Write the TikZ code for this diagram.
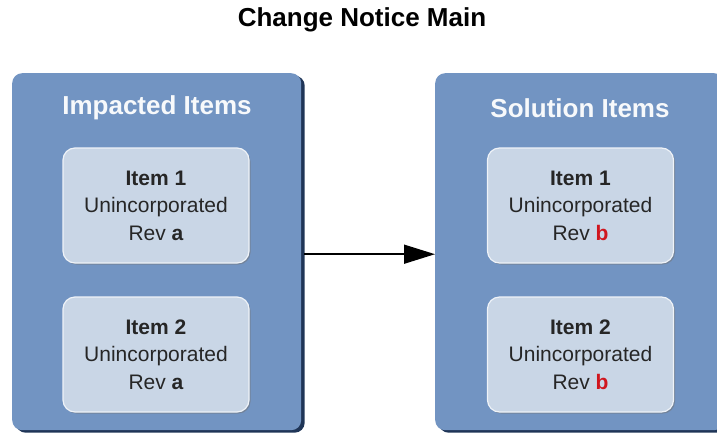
\documentclass[tikz,border=0pt]{standalone}
\usepackage{fontspec}
\setmainfont{Liberation Sans}
\usetikzlibrary{arrows.meta, shadows}
\definecolor{panelblue}{HTML}{7294C2}
\definecolor{paneldark}{HTML}{1F3557}
\definecolor{itemfill}{HTML}{C9D6E6}
\definecolor{revred}{HTML}{D0161E}

\begin{document}
\begin{tikzpicture}[x=1pt, y=-1pt,
	every node/.append style={font=\fontsize{21}{27.5}\selectfont},
	panel/.style={rectangle, rounded corners=10pt, fill=panelblue, anchor=north west,
		minimum width=289pt, minimum height=357pt, inner sep=0pt,
		general shadow={fill=paneldark, shadow xshift=3.5pt, shadow yshift=-2.5pt}},
	heading/.style={font=\fontsize{26}{30}\selectfont\bfseries, text=white!94!panelblue},
	itembox/.style={rectangle, rounded corners=12pt, fill=itemfill, draw=white!70!itemfill,
		line width=1.2pt, minimum width=186pt, minimum height=115pt, align=center, text=black!85,
		general shadow={fill=black!55, opacity=0.5, shadow xshift=1.5pt, shadow yshift=-1.5pt}}]

	\useasboundingbox (0,0) rectangle (717,434);

	\node[font=\fontsize{26}{30}\selectfont\bfseries] (title) at (362,20) {Change Notice Main};

	% panels
	\node[panel] (imp) at (12,73) {};
	\node[panel] (sol) at (435,73) {};
	\node[heading] (impn) at (157,108) {Impacted Items};
	\node[heading] (soln) at (580,108) {Solution Items};

	% items
	\node[itembox] (imp1) at (156,205.5) {\textbf{Item 1}\\Unincorporated\\Rev \textbf{a}};
	\node[itembox] (imp2) at (156,354.5) {\textbf{Item 2}\\Unincorporated\\Rev \textbf{a}};
	\node[itembox] (sol1) at (580.5,205.5) {\textbf{Item 1}\\Unincorporated\\Rev \textbf{\color{revred}b}};
	\node[itembox] (sol2) at (580.5,354.5) {\textbf{Item 2}\\Unincorporated\\Rev \textbf{\color{revred}b}};

	\draw[line width=1.5pt, -{Triangle[length=31pt, width=19pt]}] ([xshift=3pt, yshift=-2.5pt]imp.east) -- ([yshift=-2.5pt]sol.west);
\end{tikzpicture}
\end{document}
